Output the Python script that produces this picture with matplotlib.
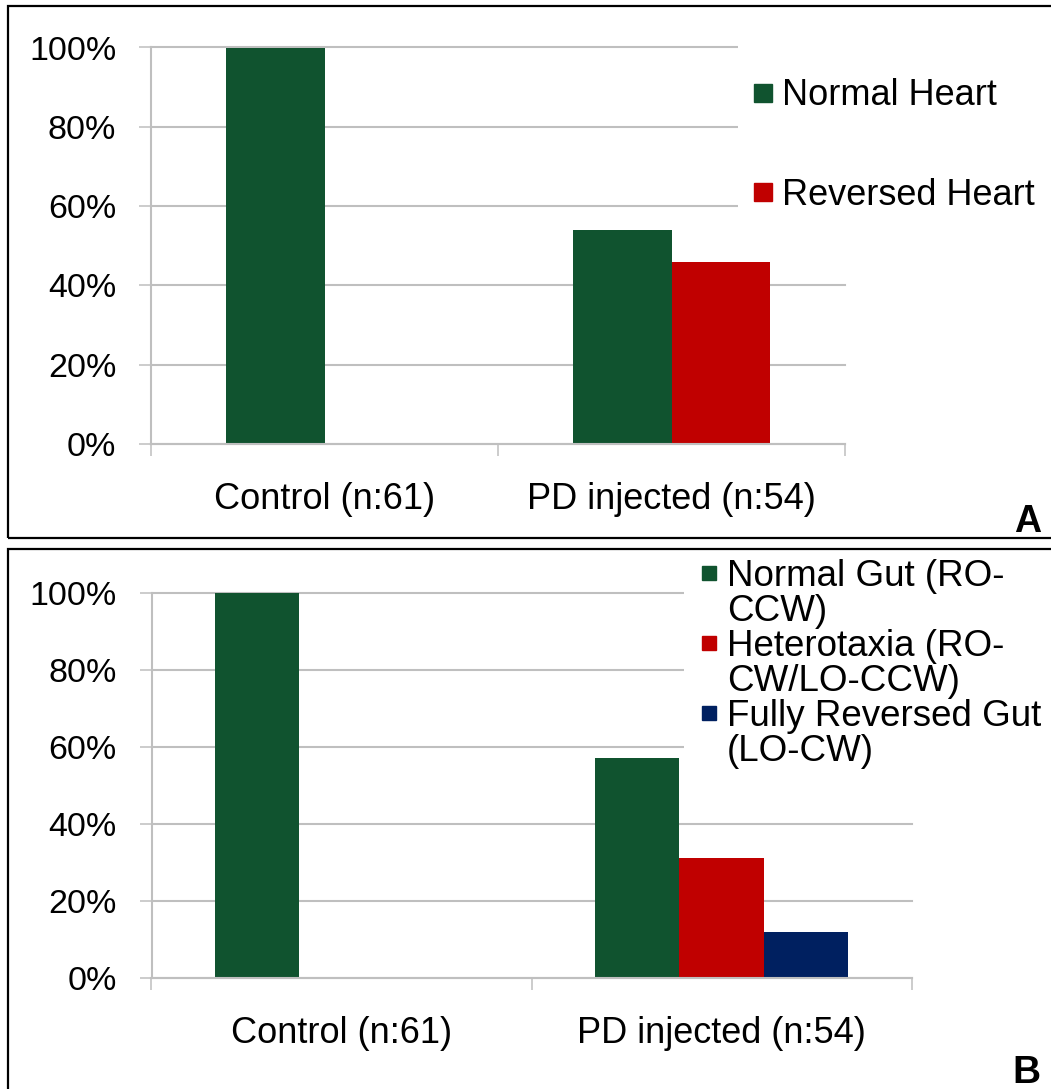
import numpy as np
import matplotlib
matplotlib.use("Agg")
import matplotlib.pyplot as plt
from matplotlib.patches import Rectangle
from matplotlib.lines import Line2D

# data (percent of embryos)
categories = ["Control (n:61)", "PD injected (n:54)"]
heart_labels = ["Normal Heart", "Reversed Heart"]
heart_normal = [100, 54]
heart_reversed = [0, 46]
gut_labels = ["Normal Gut (RO-\nCCW)", "Heterotaxia (RO-\nCW/LO-CCW)",
              "Fully Reversed Gut\n(LO-CW)"]
gut_normal = [100, 57]
gut_hetero = [0, 31]
gut_reversed = [0, 12]
yticks = [0, 20, 40, 60, 80, 100]

W, H = 1051, 1089
GREEN, RED, NAVY = "#10532F", "#C00000", "#002060"
GRID = "#BFBFBF"

plt.rcParams["font.family"] = ["Liberation Sans", "DejaVu Sans"]


def px_rect(left, right, top, bottom):
    """axes rectangle from pixel edges (origin top left)"""
    return [left / W, 1 - bottom / H, (right - left) / W, (bottom - top) / H]


def style_axes(ax, mask_x0):
    x = np.arange(len(categories))
    ax.set_xlim(-0.5, len(categories) - 0.5)
    ax.set_ylim(0, 100)
    ax.set_yticks(yticks)
    ax.set_yticklabels(["%d%%" % v for v in yticks])
    ax.yaxis.grid(True, color=GRID, linewidth=1.5)
    for gl in ax.get_ygridlines():
        gl.set_clip_on(False)
    ax.set_axisbelow(True)
    for s in ["top", "right"]:
        ax.spines[s].set_visible(False)
    for s in ["left", "bottom"]:
        ax.spines[s].set_color(GRID)
        ax.spines[s].set_linewidth(1.5)
    ax.tick_params(axis="y", length=8.6, width=1.1, color=GRID, pad=16.5,
                   labelsize=24.5)
    # category boundaries get the tick marks, centres get the labels
    ax.set_xticks(np.arange(-0.5, len(categories)))
    ax.set_xticklabels([])
    ax.set_xticks(x, minor=True)
    ax.set_xticklabels(categories, minor=True)
    ax.tick_params(axis="x", which="major", length=8.6, width=1.1, color=GRID)
    ax.tick_params(axis="x", which="minor", length=0, pad=27.5, labelsize=26)
    # white legend area hides the upper gridlines on the right
    ax.add_patch(Rectangle((mask_x0, 0.5), 1.05 - mask_x0, 0.52,
                           transform=ax.transAxes, facecolor="white",
                           edgecolor="none", zorder=0.8, clip_on=False))


fig = plt.figure(figsize=(W / 100, H / 100), dpi=100)

### Panel A ###
ax_a = fig.add_axes(px_rect(151, 845, 47.5, 444))
x = np.arange(len(categories))
wa = 0.2836
ax_a.bar(x - wa / 2, heart_normal, wa, color=GREEN, linewidth=0)
ax_a.bar(x + wa / 2, heart_reversed, wa, color=RED, linewidth=0)
style_axes(ax_a, (738 - 151) / (845 - 151))
handles_a = [Line2D([], [], marker="s", linestyle="none", markersize=13.2,
                    color=c) for c in [GREEN, RED]]
ax_a.legend(handles_a, heart_labels, loc="center left",
            bbox_to_anchor=(753 / W, 1 - 145.5 / H),
            bbox_transform=fig.transFigure, frameon=False, borderpad=0,
            borderaxespad=0, handlelength=0.53, handletextpad=0.28,
            labelspacing=1.78, fontsize=26)

### Panel B ###
ax_b = fig.add_axes(px_rect(151.5, 911.5, 592.7, 977.7))
wb = 0.222
ax_b.bar(x - wb, gut_normal, wb, color=GREEN, linewidth=0)
ax_b.bar(x, gut_hetero, wb, color=RED, linewidth=0)
ax_b.bar(x + wb, gut_reversed, wb, color=NAVY, linewidth=0)
style_axes(ax_b, (684 - 151.5) / (911.5 - 151.5))
# one legend row per text line so the square sits on the first line
handles_b, labels_b = [], []
for c, lab in zip([GREEN, RED, NAVY], gut_labels):
    for i, line in enumerate(lab.split("\n")):
        handles_b.append(Line2D([], [], marker="s" if i == 0 else "",
                                linestyle="none", markersize=10, color=c))
        labels_b.append(line)
ax_b.legend(handles_b, labels_b, loc="center left",
            bbox_to_anchor=(702 / W, 1 - 664 / H),
            bbox_transform=fig.transFigure, frameon=False,
            borderpad=0, borderaxespad=0, handlelength=0.38,
            handletextpad=0.3, labelspacing=0.0, fontsize=26.5)

### panel frames and letters ###
fig.add_artist(Rectangle((8 / W, 1 - 538 / H), (1070 - 8) / W, (538 - 6) / H,
                         transform=fig.transFigure, fill=False,
                         edgecolor="black", linewidth=1.6))
fig.add_artist(Rectangle((8 / W, 1 - 1100 / H), (1070 - 8) / W,
                         (1100 - 549) / H, transform=fig.transFigure,
                         fill=False, edgecolor="black", linewidth=1.6))
fig.text(1028 / W, 1 - 532 / H, "A", ha="center", va="baseline",
         fontsize=27, fontweight="bold")
fig.text(1026 / W, 1 - 1083 / H, "B", ha="center", va="baseline",
         fontsize=28, fontweight="bold")

fig.savefig("out.png", dpi=100)
